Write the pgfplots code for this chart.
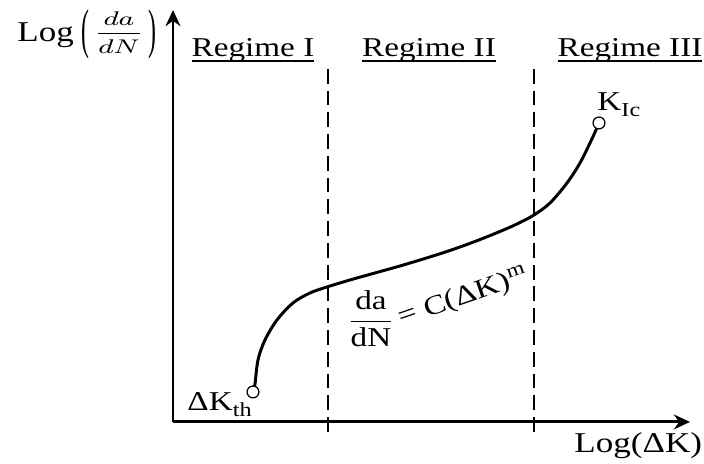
\documentclass[border=0pt]{standalone}
\usepackage{fontspec}
\setmainfont{Liberation Serif}
\usepackage{graphicx}
\usepackage{pgfplots}
\pgfplotsset{compat=1.18}
\usetikzlibrary{arrows.meta}
% the lettering is set a little wider than the font's natural width
\newcommand{\wide}[1]{\scalebox{1.22}[1]{#1}}
% underline drawn close under the baseline
\newcommand{\ul}[1]{\setbox0\hbox{#1}\rlap{\rule[-1.9pt]{\wd0}{0.55pt}}\box0}
\newcommand{\titlesize}{\fontsize{11.6}{14}\selectfont}
% tall parentheses centred on the math axis
\newcommand{\tallparen}[1]{\vcenter{\hbox{\scalebox{0.9}[2.9]{#1}}}}

\begin{document}
\begin{tikzpicture}
\begin{axis}[
  scale only axis,
  width=7.344cm, height=5.852cm,
  xmin=173, xmax=690, ymin=42, ymax=454,
  axis lines=left,
  axis line style={line width=1.2pt, -{Stealth[length=6.5pt,width=6pt]}},
  ticks=none,
  clip=false,
  font=\fontsize{11}{13}\selectfont,
]
% regime boundaries
\addplot[line width=1pt, dash pattern=on 6pt off 2.8pt] coordinates {(328,32) (328,402)};
\addplot[line width=1pt, dash pattern=on 6pt off 2.8pt] coordinates {(534,32) (534,402)};

% crack growth rate curve
\addplot[line width=1.2pt, smooth, tension=0.55] coordinates {
  (253,72) (255,80) (258,104) (265,124) (277,144) (293,161) (310,171)
  (327,177) (350,184) (375,191) (400,198) (425,205.5) (450,213.5)
  (475,222.5) (500,232.5) (517,240) (534,249) (550,261) (567,281)
  (580,301) (590,321) (596,334) (599,341)
};
% threshold and fracture toughness end points
\addplot[only marks, mark=*, mark size=2.4pt,
  mark options={fill=white, draw=black, line width=0.5pt}]
  coordinates {(253,72) (599,341)};

% regime headings
\node[anchor=base] at (axis cs:253,407) {\wide{\ul{Regime I}}};
\node[anchor=base] at (axis cs:429,407) {\wide{\ul{Regime II}}};
\node[anchor=base] at (axis cs:630,407) {\wide{\ul{Regime III}}};

% axis titles
\node[anchor=base west, inner sep=0pt] at (axis cs:17,422) {\wide{\titlesize Log}};
\node[inner sep=0pt] at (axis cs:119,430)
  {\scalebox{1.4}[1]{\fontsize{7.6}{9}\selectfont$\tallparen{(}\,\displaystyle\frac{da}{dN}\,\tallparen{)}$}};
\node[anchor=base west, inner sep=0pt] at (axis cs:574,11) {\wide{\titlesize Log(ΔK)}};

% end point labels
\node[anchor=base west, inner sep=0pt] at (axis cs:187,53)
  {\wide{ΔK\raisebox{-0.45ex}{\footnotesize th}}};
\node[anchor=base west, inner sep=0pt] at (axis cs:597,353)
  {\wide{K\raisebox{-0.45ex}{\footnotesize Ic}}};

% Paris law
\node at (axis cs:371,145) {\wide{$\displaystyle\frac{\mbox{da}}{\mbox{dN}}$}};
\node[anchor=base west, rotate=19, inner sep=0pt] at (axis cs:401,138)
  {\wide{= C(ΔK)\textsuperscript{m}}};

\coordinate (bl) at (axis cs:0,0);
\coordinate (tr) at (axis cs:704,464);
\end{axis}
\pgfresetboundingbox
\path[use as bounding box] (bl) rectangle (tr);
\end{tikzpicture}
\end{document}
